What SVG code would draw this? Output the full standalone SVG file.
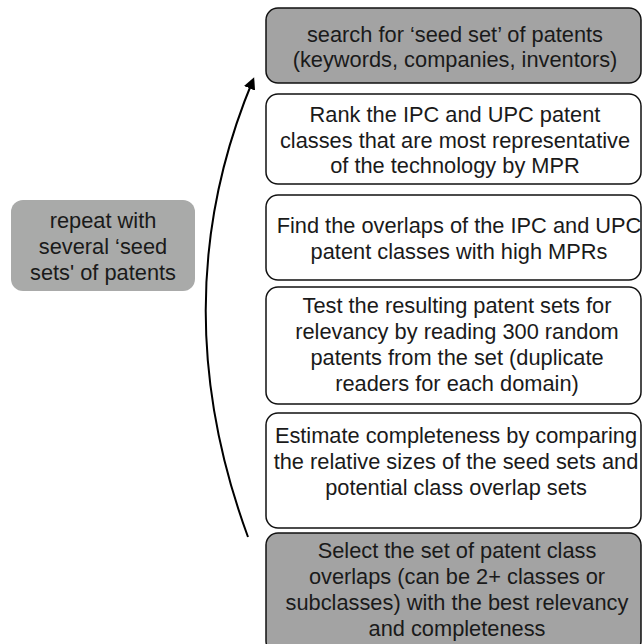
<svg xmlns="http://www.w3.org/2000/svg" width="642" height="644" viewBox="0 0 642 644">
<style>
.box{stroke:#111;stroke-width:1.5}
.g{fill:#a3a3a3}
.w{fill:#fff}
.lb{fill:#a9aaa9;stroke:none}
text{font-family:"Liberation Sans",Arial,sans-serif;font-size:21.8px;fill:#1a1a1a;text-anchor:middle}
</style>
<defs>
<marker id="ah" markerWidth="12" markerHeight="12" refX="9" refY="6" orient="auto" markerUnits="userSpaceOnUse" viewBox="0 0 12 12">
<path d="M0,0 L12,6 L0,12 z" fill="#000"/>
</marker>
</defs>
<rect width="642" height="644" fill="#fff"/>
<g id="connectors">
<path d="M248,537 Q161,300 253,80" fill="none" stroke="#000" stroke-width="2" marker-end="url(#ah)"/>
</g>
<g id="repeat">
<rect class="lb" x="11" y="200" width="184" height="91" rx="12"/>
<text x="103" y="228">repeat with</text>
<text x="103" y="254">several ‘seed</text>
<text x="103" y="280">sets' of patents</text>
</g>
<g id="n1">
<rect class="box g" x="266" y="8" width="375" height="75" rx="12"/>
<text x="455" y="42">search for ‘seed set’ of patents</text>
<text x="455" y="67">(keywords, companies, inventors)</text>
</g>
<g id="n2">
<rect class="box w" x="266" y="94" width="375" height="90" rx="12"/>
<text x="455" y="122">Rank the IPC and UPC patent</text>
<text x="455" y="148">classes that are most representative</text>
<text x="455" y="173">of the technology by MPR</text>
</g>
<g id="n3">
<rect class="box w" x="266" y="195" width="375" height="85" rx="12"/>
<text x="459" y="233">Find the overlaps of the IPC and UPC</text>
<text x="459" y="259">patent classes with high MPRs</text>
</g>
<g id="n4">
<rect class="box w" x="266" y="287" width="375" height="117" rx="12"/>
<text x="457" y="313">Test the resulting patent sets for</text>
<text x="457" y="339">relevancy by reading 300 random</text>
<text x="457" y="365">patents from the set (duplicate</text>
<text x="457" y="391">readers for each domain)</text>
</g>
<g id="n5">
<rect class="box w" x="266" y="413" width="375" height="115" rx="12"/>
<text x="456" y="443">Estimate completeness by comparing</text>
<text x="456" y="469">the relative sizes of the seed sets and</text>
<text x="456" y="495">potential class overlap sets</text>
</g>
<g id="n6">
<rect class="box g" x="266" y="533" width="375" height="120" rx="12"/>
<text x="457" y="558">Select the set of patent class</text>
<text x="457" y="584">overlaps (can be 2+ classes or</text>
<text x="457" y="610">subclasses) with the best relevancy</text>
<text x="457" y="636">and completeness</text>
</g>
</svg>
